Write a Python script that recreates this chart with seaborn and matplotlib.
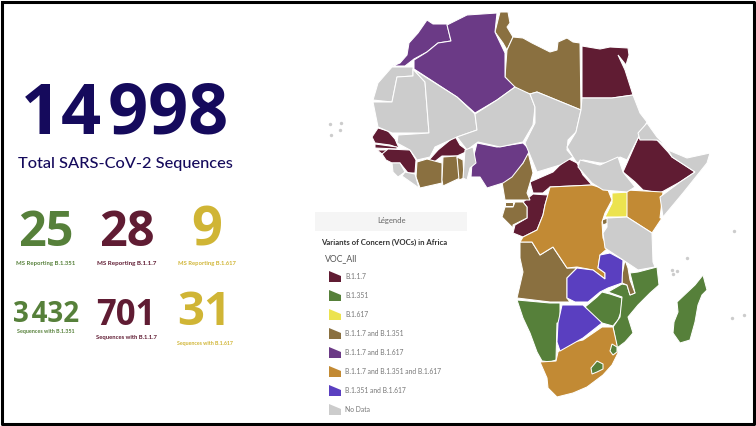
import matplotlib
matplotlib.use('Agg')
import matplotlib.pyplot as plt
import seaborn as sns
import pandas as pd

# outlines, in image pixels (x, y)
morocco = [(393,66),(405,66),(414,59),(427,52),(438,43),(451,41),(447,24),(433,24),(427,20),(418,33),(409,43),(407,55),(400,63)]
algeria = [(414,60),(427,52),(438,43),(451,41),(447,25),(467,15),(497,13),(495,32),(505,53),(505,77),(515,87),(497,100),(475,113),(457,97),(414,69)]
tunisia = [(500,12),(508,12),(510,23),(507,27),(513,37),(507,50),(503,43),(495,32)]
libya = [(513,37),(523,38),(532,43),(550,52),(557,50),(558,42),(567,38),(573,42),(580,43),(581,110),(537,92),(530,94),(517,90),(505,77),(507,50)]
egypt = [(582,46),(600,49),(610,47),(628,48),(629,55),(626,65),(618,55),(625,70),(633,95),(612,98),(582,98)]
w_sahara = [(392,67),(413,67),(413,76),(397,77),(392,102),(373,100),(378,83)]
mauritania = [(397,77),(413,76),(413,69),(425,82),(429,133),(400,133),(392,133),(378,127),(373,102),(392,102)]
mali = [(413,69),(457,97),(475,114),(477,130),(457,137),(435,147),(430,157),(417,160),(410,150),(397,143),(398,135),(429,133),(425,82)]
niger = [(475,114),(497,100),(515,87),(530,94),(535,107),(533,125),(523,142),(500,147),(478,142),(467,150),(457,137),(477,130)]
benin = [(465,150),(473,147),(476,163),(470,168),(467,180),(463,178)]
togo = [(457,157),(463,160),(464,178),(459,180)]
ghana = [(443,157),(457,156),(460,178),(443,186),(442,180)]
ivory_coast = [(417,162),(427,159),(442,163),(442,183),(420,188),(416,177)]
burkina = [(429,160),(438,150),(455,136),(460,145),(468,151),(457,156),(442,156),(433,163)]
senegal = [(372,137),(378,128),(388,131),(395,139),(399,148),(390,145),(375,143)]
gambia = [(375,144),(397,147),(397,149),(375,148)]
guinea_bissau = [(377,150),(387,150),(387,153),(382,154)]
guinea = [(382,154),(388,149),(410,150),(416,160),(415,173),(408,173),(400,163),(392,163),(386,160)]
sierra_leone = [(392,163),(400,163),(405,172),(398,177),(393,172)]
liberia = [(405,172),(415,174),(419,188),(402,176)]
nigeria = [(477,143),(497,147),(523,143),(530,150),(523,163),(512,177),(503,183),(487,188),(480,177),(471,177),(472,163)]
chad = [(530,94),(537,92),(581,110),(576,132),(568,140),(567,150),(573,157),(560,165),(537,172),(525,143),(535,123),(535,107)]
sudan = [(581,110),(582,98),(612,98),(633,95),(640,113),(647,122),(638,138),(627,160),(620,157),(613,163),(600,163),(583,160),(577,163),(573,157),(567,147),(576,132)]
south_sudan = [(580,160),(600,165),(618,157),(623,172),(635,187),(627,192),(603,190),(592,183),(578,167)]
eritrea = [(647,123),(657,137),(668,148),(657,140),(640,140),(638,133)]
ethiopia = [(638,138),(657,140),(668,152),(672,157),(695,172),(680,182),(660,193),(643,190),(635,182),(623,172),(627,163)]
somalia = [(668,150),(687,158),(710,153),(707,163),(683,193),(663,217),(660,197),(680,182),(695,172),(672,157)]
cameroon = [(528,152),(533,173),(527,193),(530,200),(505,200),(502,182),(510,175),(523,163)]
car = [(530,182),(553,172),(567,158),(577,163),(583,175),(592,185),(550,187),(543,193),(533,193)]
eq_guinea = [(505,202),(513,202),(513,206),(505,206)]
gabon = [(505,207),(513,207),(515,202),(523,202),(527,207),(527,218),(513,225),(513,228),(507,222),(502,217)]
congo = [(523,202),(533,194),(548,195),(545,205),(543,215),(537,230),(523,237),(513,233),(515,225),(527,218),(527,207)]
drc = [(550,187),(592,185),(608,190),(612,200),(605,213),(602,222),(603,238),(608,248),(600,255),(598,268),(605,273),(605,279),(593,270),(577,267),(567,268),(553,247),(540,255),(532,242),(520,242),(523,237),(537,230),(543,215),(545,205)]
rwanda = [(602,220),(608,218),(608,223),(603,225)]
uganda = [(612,193),(630,192),(627,217),(605,217),(612,203)]
kenya = [(627,190),(663,192),(660,218),(662,218),(652,233),(627,217)]
tanzania = [(607,218),(627,217),(652,233),(653,262),(655,267),(638,270),(623,260),(605,248),(603,233),(607,227)]
zambia = [(600,255),(610,253),(623,260),(622,283),(608,288),(600,292),(588,302),(575,302),(567,298),(567,278),(577,268),(593,270),(605,279),(605,273),(598,268)]
malawi = [(625,260),(628,268),(630,280),(635,293),(630,295),(627,285),(622,283),(622,275)]
mozambique = [(657,267),(659,285),(650,293),(638,305),(628,317),(633,333),(625,342),(617,348),(613,327),(620,317),(622,297),(608,292),(622,284),(627,285),(630,295),(635,293),(630,273),(638,272)]
angola = [(520,242),(532,242),(540,255),(553,247),(567,268),(577,268),(567,278),(567,298),(570,302),(550,302),(517,298),(523,272),(520,258)]
namibia = [(517,300),(550,303),(560,303),(560,323),(557,323),(556,360),(550,362),(542,361),(537,352),(530,333),(523,318)]
botswana = [(562,305),(573,305),(583,305),(602,323),(583,338),(560,351),(557,342),(558,323)]
zimbabwe = [(585,307),(597,297),(602,292),(610,294),(622,298),(621,312),(618,320),(613,326),(602,323),(593,317)]
south_africa = [(540,362),(556,361),(558,352),(568,343),(583,340),(602,327),(613,327),(617,345),(618,353),(612,365),(603,375),(587,387),(573,393),(557,397),(548,388),(547,378)]
lesotho = [(597,361),(603,364),(603,369),(597,372),(592,374),(591,368)]
eswatini = [(612,344),(617,347),(617,352),(613,355),(610,351)]
madagascar = [(703,275),(707,290),(702,295),(698,305),(695,322),(690,340),(680,343),(673,333),(674,322),(678,312),(677,302),(695,285)]

# variant status of each country, as in the legend
variants = ['B.1.1.7', 'B.1.351', 'B.1.617', 'B.1.1.7 and B.1.351', 'B.1.1.7 and B.1.617',
            'B.1.1.7 and B.1.351 and B.1.617', 'B.1.351 and B.1.617', 'No Data']
variant_colors = ['#601c33', '#56803a', '#ece34f', '#8a7040', '#6b3a86', '#c28a34', '#5a3fc0', '#cccccc']

only_b117 = [egypt, burkina, senegal, gambia, guinea_bissau, guinea, ethiopia, car, congo]
only_b1351 = [namibia, zimbabwe, mozambique, madagascar]
only_b1617 = [uganda]
b117_b1351 = [tunisia, libya, ivory_coast, ghana, togo, cameroon, eq_guinea, gabon, rwanda, angola, malawi]
b117_b1617 = [morocco, algeria, nigeria]
all_three = [drc, kenya, south_africa]
b1351_b1617 = [zambia, botswana]
no_data = [w_sahara, mauritania, mali, niger, benin, sierra_leone, liberia, chad, sudan, south_sudan,
           eritrea, somalia, tanzania]
groups = [only_b117, only_b1351, only_b1617, b117_b1351, b117_b1617, all_three, b1351_b1617, no_data]
enclaves = [lesotho, eswatini]

# small islands
island_x = [330, 341, 331, 340, 672, 677, 673, 687, 734, 732, 744]
island_y = [124, 123, 135, 130, 270, 271, 274, 258, 231, 318, 315]

# counters
navy = '#150a5c'
green = '#56803a'
maroon = '#601c33'
gold = '#d0b535'
counter_colors = [green, maroon, gold]
top_values = ['25', '28', '9']
top_labels = ['MS Reporting B.1.351', 'MS Reporting B.1.1.7', 'MS Reporting B.1.617']
bottom_values = ['3\u200a432', '701', '31']
bottom_labels = ['Sequences with B.1.351', 'Sequences with B.1.1.7', 'Sequences with B.1.617']

sns.set_theme(style='white')
plt.rcParams['font.family'] = ['Lato', 'DejaVu Sans']
num_font = ['Open Sans', 'DejaVu Sans']

fig, ax = plt.subplots(figsize=(7.56, 4.26), dpi=100)
ax.set_position([0, 0, 1, 1])

# map
for group, color in zip(groups, variant_colors):
    for shape in group:
        xs, ys = zip(*shape)
        ax.fill(xs, ys, facecolor=color, edgecolor='white', linewidth=0.75, zorder=2)
for shape in enclaves:
    xs, ys = zip(*shape)
    ax.fill(xs, ys, facecolor=green, edgecolor='white', linewidth=0.75, zorder=3)

islands = pd.DataFrame({'x': island_x, 'y': island_y})
sns.scatterplot(data=islands, x='x', y='y', color='#cccccc', s=6, linewidth=0, ax=ax, legend=False)
ax.set_xlim(0, 756)
ax.set_ylim(426, 0)
ax.axis('off')

# big numbers
ax.text(21, 134, '14\u200a998', fontsize=50.5, fontweight='bold', color=navy, family=num_font, va='baseline')
ax.text(18, 168, 'Total SARS-CoV-2 Sequences', fontsize=11.8, fontweight='medium', color=navy, va='baseline')

top_x = [46, 127, 207]
top_base = [246, 246, 245]
top_size = [35, 35, 39]
top_label_y = [263, 264, 263]
top_label_size = [4.3, 4.5, 4.2]
for i in range(3):
    ax.text(top_x[i], top_base[i], top_values[i], fontsize=top_size[i], fontweight='bold',
            color=counter_colors[i], family=num_font, ha='center', va='baseline')
    ax.text(top_x[i], top_label_y[i], top_labels[i], fontsize=top_label_size[i], fontweight='bold',
            color=counter_colors[i], ha='center', va='center')

bottom_x = [46, 126, 204]
bottom_base = [322, 325, 325]
bottom_size = [20, 25, 34]
bottom_label_y = [332, 338, 343]
bottom_label_size = [3.9, 4.2, 3.8]
for i in range(3):
    ax.text(bottom_x[i], bottom_base[i], bottom_values[i], fontsize=bottom_size[i], fontweight='bold',
            color=counter_colors[i], family=num_font, ha='center', va='baseline')
    ax.text(bottom_x[i] + (1 if i == 2 else 0), bottom_label_y[i], bottom_labels[i], fontsize=bottom_label_size[i], fontweight='bold',
            color=counter_colors[i], ha='center', va='center')

# legend panel
ax.fill([315, 467, 467, 315], [212, 212, 231, 231], facecolor='#f5f5f5', edgecolor='none', zorder=1)
ax.text(391, 220.5, 'Légende', fontsize=5.5, color='#666666', ha='center', va='center')
ax.text(321, 242, 'Variants of Concern (VOCs) in Africa', fontsize=5.6, fontweight='bold', color='#333333', va='center')
ax.text(325, 259, 'VOC_All', fontsize=6.2, color='#555555', va='center')
for i, (name, color) in enumerate(zip(variants, variant_colors)):
    top = 271 + 19 * i
    ax.fill([329, 341, 341, 329], [top, top + 5, top + 11, top + 11], facecolor=color, edgecolor='none')
    ax.text(345, top + 5.5, name, fontsize=4.9, color='#777777', va='center')

# black frame
ax.plot([1.5, 753.5, 753.5, 1.5, 1.5], [2, 2, 423.5, 423.5, 2], color='black', linewidth=2.2, zorder=5)

fig.savefig('out.png', dpi=100)
